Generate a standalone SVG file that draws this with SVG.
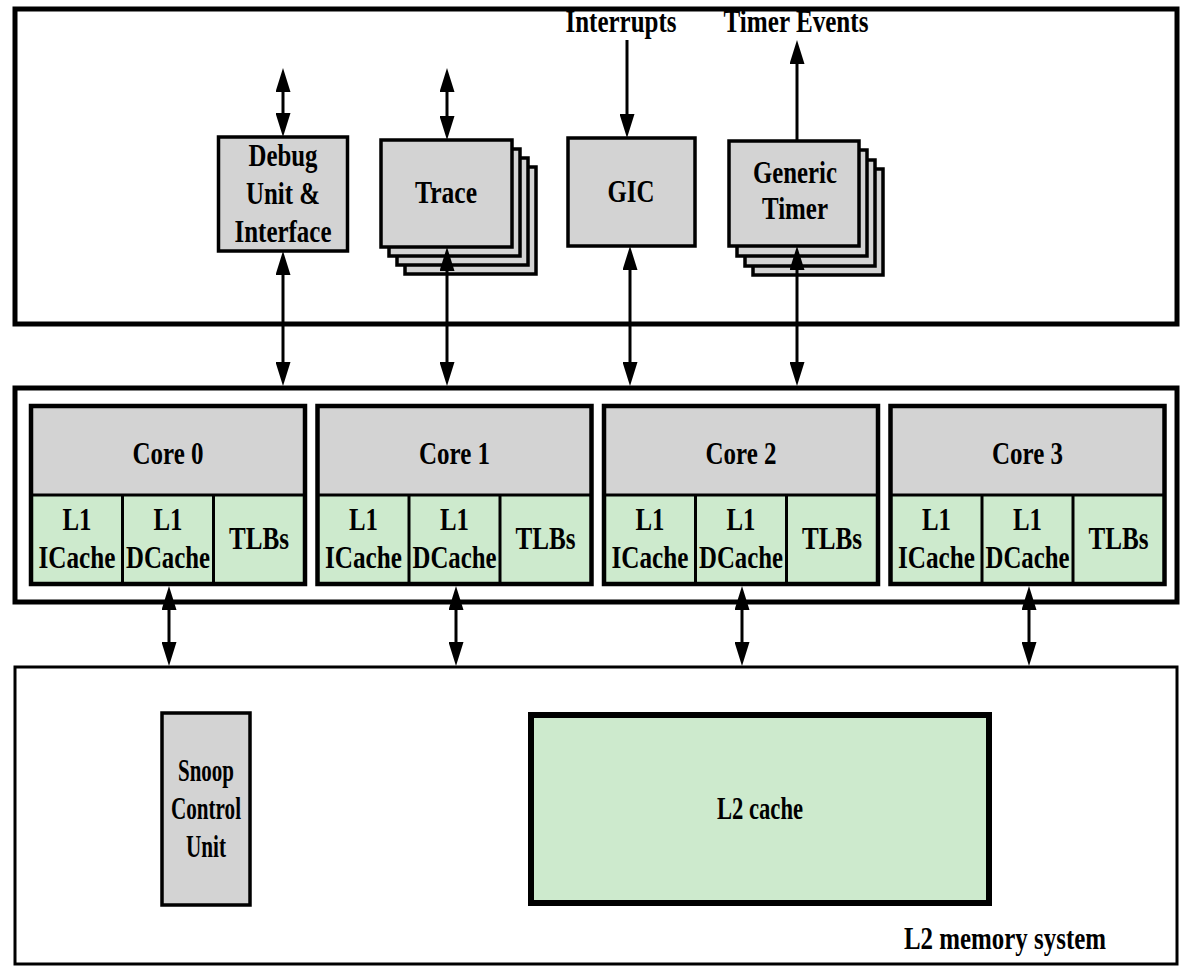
<svg xmlns="http://www.w3.org/2000/svg" width="1182" height="970" viewBox="0 0 1182 970">
<style>
.t{font-family:"Liberation Serif","Times New Roman",serif;font-weight:bold;font-size:31px;text-anchor:middle;fill:#000}
.frame{fill:#fff;stroke:#000;stroke-width:5}
.frame2{fill:#fff;stroke:#000;stroke-width:3}
.gray{fill:#d3d3d3;stroke:#000;stroke-width:3.5}
.green{fill:#cdeacd;stroke:#000;stroke-width:3}
.core{fill:none;stroke:#000;stroke-width:4.5}
.conn line{stroke:#000;stroke-width:3}
</style>
<defs>
<marker id="ah" viewBox="0 0 24 15" refX="14" refY="7.5" markerWidth="24" markerHeight="15" markerUnits="userSpaceOnUse" orient="auto-start-reverse">
<path d="M0,0 L24,7.5 L0,15 z" fill="#000"/>
</marker>
</defs>

<g id="top-frame"><rect class="frame" x="15" y="9" width="1162" height="315"/></g>
<g id="core-frame"><rect class="frame" x="15" y="388" width="1162" height="214"/></g>
<g id="l2-memory-system">
<rect class="frame2" x="15" y="667" width="1162" height="297"/>
<text class="t" x="1005" y="949" textLength="202" lengthAdjust="spacingAndGlyphs">L2 memory system</text>
</g>

<g id="interrupts-label"><text class="t" x="621" y="32" textLength="111" lengthAdjust="spacingAndGlyphs">Interrupts</text></g>
<g id="timer-events-label"><text class="t" x="796" y="32" textLength="145" lengthAdjust="spacingAndGlyphs">Timer Events</text></g>

<g id="debug">
<rect class="gray" x="218.5" y="137" width="129" height="114"/>
<text class="t" x="283" y="166" textLength="69" lengthAdjust="spacingAndGlyphs">Debug</text>
<text class="t" x="283" y="204" textLength="74" lengthAdjust="spacingAndGlyphs">Unit &amp;</text>
<text class="t" x="283" y="242" textLength="97" lengthAdjust="spacingAndGlyphs">Interface</text>
</g>

<g id="trace">
<rect class="gray" x="405" y="167" width="131" height="107"/>
<rect class="gray" x="397" y="158" width="131" height="107"/>
<rect class="gray" x="389" y="149" width="131" height="107"/>
<rect class="gray" x="381" y="140" width="131" height="107"/>
<text class="t" x="446" y="203" textLength="62" lengthAdjust="spacingAndGlyphs">Trace</text>
</g>

<g id="gic">
<rect class="gray" x="568" y="138" width="127" height="108"/>
<text class="t" x="631" y="202" textLength="47" lengthAdjust="spacingAndGlyphs">GIC</text>
</g>

<g id="generic-timer">
<rect class="gray" x="753" y="169" width="130" height="106"/>
<rect class="gray" x="745" y="160" width="130" height="106"/>
<rect class="gray" x="737" y="150" width="130" height="106"/>
<rect class="gray" x="729" y="141" width="130" height="105"/>
<text class="t" x="795" y="183" textLength="84" lengthAdjust="spacingAndGlyphs">Generic</text>
<text class="t" x="795" y="219" textLength="66" lengthAdjust="spacingAndGlyphs">Timer</text>
</g>

<g id="core0">
<rect x="31" y="406" width="274" height="89" fill="#d3d3d3"/>
<rect x="31" y="495" width="274" height="89" fill="#cdeacd"/>
<line x1="31" y1="495" x2="305" y2="495" stroke="#000" stroke-width="3"/>
<line x1="122.5" y1="495" x2="122.5" y2="584" stroke="#000" stroke-width="3"/>
<line x1="213.5" y1="495" x2="213.5" y2="584" stroke="#000" stroke-width="3"/>
<rect class="core" x="31" y="406" width="274" height="178"/>
<text class="t" x="168" y="464" textLength="71" lengthAdjust="spacingAndGlyphs">Core 0</text>
<text class="t" x="77" y="530" textLength="29" lengthAdjust="spacingAndGlyphs">L1</text>
<text class="t" x="77" y="568" textLength="77" lengthAdjust="spacingAndGlyphs">ICache</text>
<text class="t" x="168" y="530" textLength="29" lengthAdjust="spacingAndGlyphs">L1</text>
<text class="t" x="168" y="568" textLength="84" lengthAdjust="spacingAndGlyphs">DCache</text>
<text class="t" x="259" y="549" textLength="60" lengthAdjust="spacingAndGlyphs">TLBs</text>
</g>

<g id="core1">
<rect x="317.5" y="406" width="274" height="89" fill="#d3d3d3"/>
<rect x="317.5" y="495" width="274" height="89" fill="#cdeacd"/>
<line x1="317.5" y1="495" x2="591.5" y2="495" stroke="#000" stroke-width="3"/>
<line x1="409" y1="495" x2="409" y2="584" stroke="#000" stroke-width="3"/>
<line x1="500" y1="495" x2="500" y2="584" stroke="#000" stroke-width="3"/>
<rect class="core" x="317.5" y="406" width="274" height="178"/>
<text class="t" x="454.5" y="464" textLength="71" lengthAdjust="spacingAndGlyphs">Core 1</text>
<text class="t" x="363.5" y="530" textLength="29" lengthAdjust="spacingAndGlyphs">L1</text>
<text class="t" x="363.5" y="568" textLength="77" lengthAdjust="spacingAndGlyphs">ICache</text>
<text class="t" x="454.5" y="530" textLength="29" lengthAdjust="spacingAndGlyphs">L1</text>
<text class="t" x="454.5" y="568" textLength="84" lengthAdjust="spacingAndGlyphs">DCache</text>
<text class="t" x="545.5" y="549" textLength="60" lengthAdjust="spacingAndGlyphs">TLBs</text>
</g>

<g id="core2">
<rect x="604" y="406" width="274" height="89" fill="#d3d3d3"/>
<rect x="604" y="495" width="274" height="89" fill="#cdeacd"/>
<line x1="604" y1="495" x2="878" y2="495" stroke="#000" stroke-width="3"/>
<line x1="695.5" y1="495" x2="695.5" y2="584" stroke="#000" stroke-width="3"/>
<line x1="786.5" y1="495" x2="786.5" y2="584" stroke="#000" stroke-width="3"/>
<rect class="core" x="604" y="406" width="274" height="178"/>
<text class="t" x="741" y="464" textLength="71" lengthAdjust="spacingAndGlyphs">Core 2</text>
<text class="t" x="650" y="530" textLength="29" lengthAdjust="spacingAndGlyphs">L1</text>
<text class="t" x="650" y="568" textLength="77" lengthAdjust="spacingAndGlyphs">ICache</text>
<text class="t" x="741" y="530" textLength="29" lengthAdjust="spacingAndGlyphs">L1</text>
<text class="t" x="741" y="568" textLength="84" lengthAdjust="spacingAndGlyphs">DCache</text>
<text class="t" x="832" y="549" textLength="60" lengthAdjust="spacingAndGlyphs">TLBs</text>
</g>

<g id="core3">
<rect x="890.5" y="406" width="274" height="89" fill="#d3d3d3"/>
<rect x="890.5" y="495" width="274" height="89" fill="#cdeacd"/>
<line x1="890.5" y1="495" x2="1164.5" y2="495" stroke="#000" stroke-width="3"/>
<line x1="982" y1="495" x2="982" y2="584" stroke="#000" stroke-width="3"/>
<line x1="1073" y1="495" x2="1073" y2="584" stroke="#000" stroke-width="3"/>
<rect class="core" x="890.5" y="406" width="274" height="178"/>
<text class="t" x="1027.5" y="464" textLength="71" lengthAdjust="spacingAndGlyphs">Core 3</text>
<text class="t" x="936.5" y="530" textLength="29" lengthAdjust="spacingAndGlyphs">L1</text>
<text class="t" x="936.5" y="568" textLength="77" lengthAdjust="spacingAndGlyphs">ICache</text>
<text class="t" x="1027.5" y="530" textLength="29" lengthAdjust="spacingAndGlyphs">L1</text>
<text class="t" x="1027.5" y="568" textLength="84" lengthAdjust="spacingAndGlyphs">DCache</text>
<text class="t" x="1118.5" y="549" textLength="60" lengthAdjust="spacingAndGlyphs">TLBs</text>
</g>

<g id="snoop-control-unit">
<rect class="gray" x="162" y="713" width="88" height="192" stroke-width="4"/>
<text class="t" x="206" y="781" textLength="56" lengthAdjust="spacingAndGlyphs">Snoop</text>
<text class="t" x="206" y="819" textLength="70" lengthAdjust="spacingAndGlyphs">Control</text>
<text class="t" x="206" y="857" textLength="40" lengthAdjust="spacingAndGlyphs">Unit</text>
</g>

<g id="l2-cache">
<rect x="531" y="715" width="458" height="188" fill="#cdeacd" stroke="#000" stroke-width="6"/>
<text class="t" x="760" y="819" textLength="86" lengthAdjust="spacingAndGlyphs">L2 cache</text>
</g>

<g id="connectors" class="conn">
<line x1="283" y1="78" x2="283" y2="127" marker-start="url(#ah)" marker-end="url(#ah)"/>
<line x1="283" y1="261" x2="283" y2="376" marker-start="url(#ah)" marker-end="url(#ah)"/>
<line x1="447" y1="78" x2="447" y2="130" marker-start="url(#ah)" marker-end="url(#ah)"/>
<line x1="447" y1="257" x2="447" y2="376" marker-start="url(#ah)" marker-end="url(#ah)"/>
<line x1="627" y1="40" x2="627" y2="128" marker-end="url(#ah)"/>
<line x1="630" y1="256" x2="630" y2="376" marker-start="url(#ah)" marker-end="url(#ah)"/>
<line x1="797" y1="141" x2="797" y2="50" marker-end="url(#ah)"/>
<line x1="797" y1="256" x2="797" y2="376" marker-start="url(#ah)" marker-end="url(#ah)"/>
<line x1="169" y1="596" x2="169" y2="656" marker-start="url(#ah)" marker-end="url(#ah)"/>
<line x1="456" y1="596" x2="456" y2="656" marker-start="url(#ah)" marker-end="url(#ah)"/>
<line x1="742" y1="596" x2="742" y2="656" marker-start="url(#ah)" marker-end="url(#ah)"/>
<line x1="1029" y1="596" x2="1029" y2="656" marker-start="url(#ah)" marker-end="url(#ah)"/>
</g>
</svg>
